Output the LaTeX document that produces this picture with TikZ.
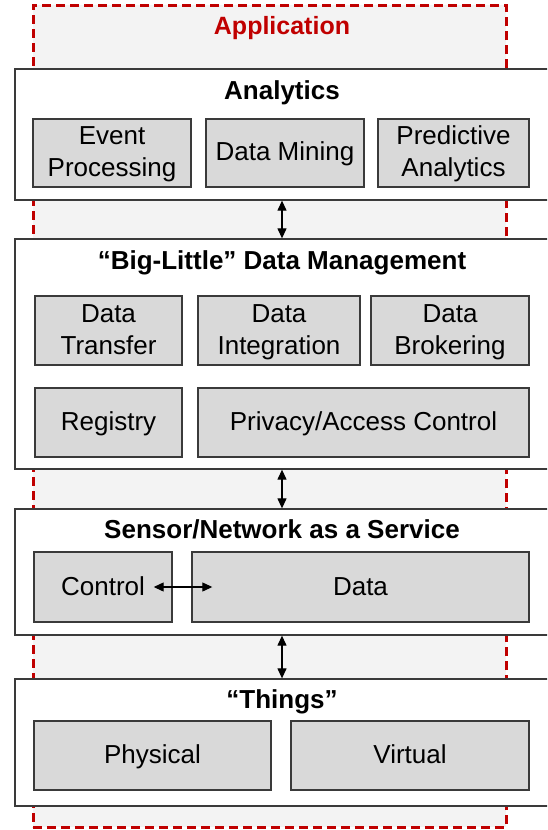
\documentclass[tikz,border=0pt]{standalone}
\usepackage{fontspec}
\setmainfont{Liberation Sans}
\usetikzlibrary{arrows.meta}
\definecolor{appred}{HTML}{C00000}
\definecolor{bgray}{HTML}{F3F3F3}
\definecolor{boxgray}{HTML}{D9D9D9}
\definecolor{edgegray}{HTML}{3A3A3A}
\newcommand\lnstrut{\rule[-5pt]{0pt}{26pt}}
\tikzset{
  appbox/.style={draw=appred, line width=3pt, dash pattern=on 9pt off 5pt, fill=bgray, rectangle, inner sep=0pt},
  layerbox/.style={draw=edgegray, line width=1.3pt, fill=white, rectangle, inner sep=0pt},
  inbox/.style={draw=edgegray, line width=1.4pt, fill=boxgray, rectangle, inner sep=0pt, align=center,
     font=\fontsize{26}{32}\selectfont},
  ltitle/.style={font=\fontsize{26}{30}\selectfont\bfseries, inner sep=0pt, text height=24pt, text depth=4pt},
  biarrow/.style={line width=1.2pt, {Triangle[length=10pt,width=9pt]}-{Triangle[length=10pt,width=9pt]}}
}
\begin{document}
\begin{tikzpicture}[x=1pt,y=-1pt]
\useasboundingbox (0,0) rectangle (547,830);
\clip (0,0) rectangle (547,830);
% application frame
\node[appbox, minimum width=473pt, minimum height=822pt] (app) at (269.5,416) {};
\node[font=\fontsize{25}{30}\selectfont\bfseries, text=appred, inner sep=0pt, text height=24pt, text depth=4pt] (apptitle) at (282,24) {Application};
% layers
\node[layerbox, minimum width=560pt, minimum height=131pt] (ana) at (295,134.5) {};
\node[layerbox, minimum width=560pt, minimum height=230pt] (big) at (295,354) {};
\node[layerbox, minimum width=560pt, minimum height=126pt] (sen) at (295,572) {};
\node[layerbox, minimum width=560pt, minimum height=127pt] (thi) at (295,742.5) {};
% titles
\node[ltitle] (anat) at (282,89) {Analytics};
\node[ltitle] (bigt) at (282,259) {“Big-Little” Data Management};
\node[ltitle] (sent) at (282,528) {Sensor/Network as a Service};
\node[ltitle] (thit) at (282,698) {“Things”};
% analytics boxes
\node[inbox, minimum width=158pt, minimum height=68pt] (ev) at (112,153) {\lnstrut Event\\\lnstrut Processing};
\node[inbox, minimum width=158pt, minimum height=68pt] (dm) at (285,153) {\lnstrut Data Mining};
\node[inbox, minimum width=151pt, minimum height=68pt] (pa) at (453.5,153) {\lnstrut Predictive\\\lnstrut Analytics};
% data management boxes
\node[inbox, minimum width=147pt, minimum height=69pt] (dt) at (108.5,330.5) {\lnstrut Data\\\lnstrut Transfer};
\node[inbox, minimum width=162pt, minimum height=69pt] (di) at (279,330.5) {\lnstrut Data\\\lnstrut Integration};
\node[inbox, minimum width=158pt, minimum height=69pt] (db) at (450,330.5) {\lnstrut Data\\\lnstrut Brokering};
\node[inbox, minimum width=147pt, minimum height=69pt] (reg) at (108.5,422.5) {\lnstrut Registry};
\node[inbox, minimum width=331pt, minimum height=69pt] (pac) at (363.5,422.5) {\lnstrut Privacy/Access Control};
% sensor boxes
\node[inbox, minimum width=138pt, minimum height=70pt] (ctl) at (103,587) {\lnstrut Control};
\node[inbox, minimum width=337pt, minimum height=70pt] (dat) at (360.5,587) {\lnstrut Data};
% things boxes
\node[inbox, minimum width=237pt, minimum height=69pt] (phy) at (152.5,755.5) {\lnstrut Physical};
\node[inbox, minimum width=238pt, minimum height=69pt] (vir) at (410,755.5) {\lnstrut Virtual};
% arrows
\draw[biarrow] ([xshift=-13pt]ana.south) -- ([xshift=-13pt]big.north);
\draw[biarrow] ([xshift=-13pt]big.south) -- ([xshift=-13pt]sen.north);
\draw[biarrow] ([xshift=-13pt]sen.south) -- ([xshift=-13pt]thi.north);
\draw[biarrow] ([xshift=-19pt]ctl.east) -- ([xshift=21pt]dat.west);
\end{tikzpicture}
\end{document}
